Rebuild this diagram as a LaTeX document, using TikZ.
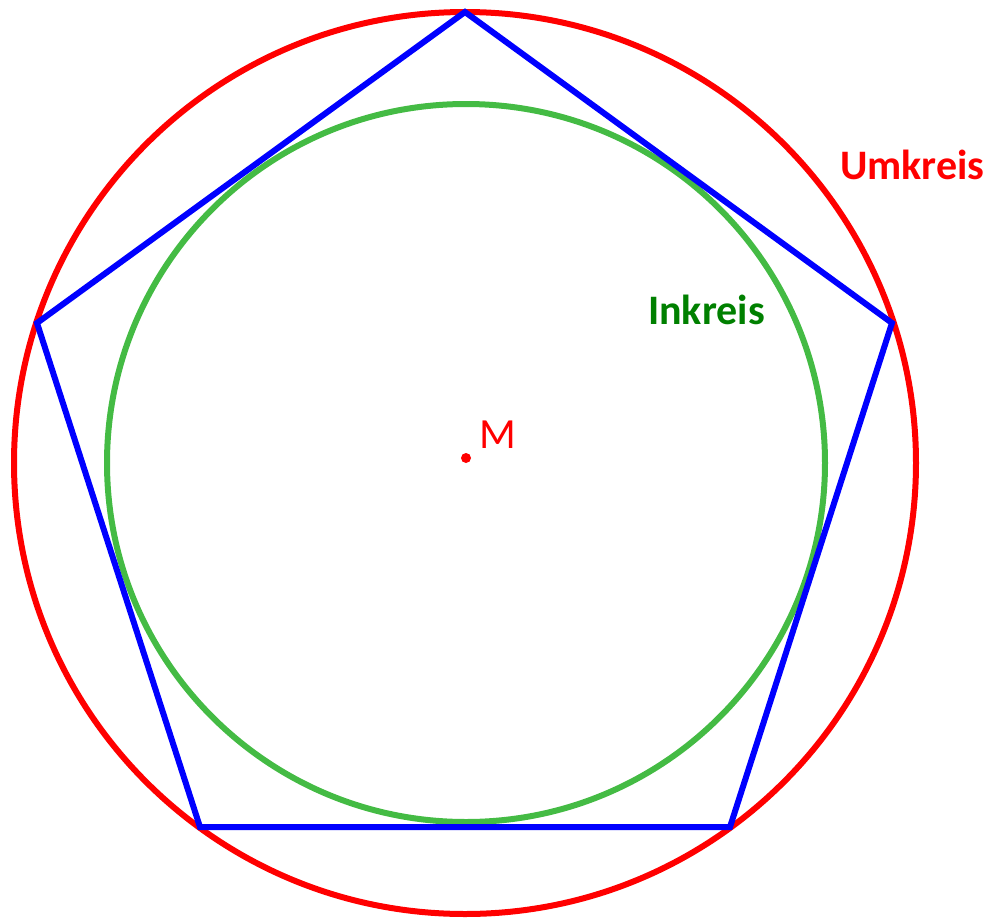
\documentclass[tikz,border=0pt]{standalone}
\usepackage{fontspec}
\setmainfont{Carlito}
\definecolor{umred}{HTML}{FF0000}
\definecolor{pblue}{HTML}{0000FF}
\definecolor{ingreen}{HTML}{44BB44}
\definecolor{intext}{HTML}{008000}
\begin{document}
\begin{tikzpicture}[x=1pt,y=-1pt,
  circ/.style={line width=6pt},
  lbl/.style={inner sep=0pt,anchor=base west,font=\fontsize{42}{46}\selectfont\bfseries}]
\useasboundingbox (0,0) rectangle (994,919);
\coordinate (M) at (465,463);
\draw[circ,umred] (M) circle[radius=451];
\draw[circ,ingreen] (466,463) circle[radius=359];
\coordinate (A) at (465,12);
\coordinate (B) at (892,323);
\coordinate (C) at (730,827);
\coordinate (D) at (200,827);
\coordinate (E) at (37,323);
\draw[circ,pblue,line join=miter] (A) -- (B) -- (C) -- (D) -- (E) -- cycle;
\fill[umred] (466,458) circle[radius=5];
\node[inner sep=0pt,anchor=base west,text=umred,font=\fontsize{43}{46}\selectfont] (mlabel) at (479,448) {M};
\node[lbl,text=umred] (umkreis) at (840,179) {Umkreis};
\node[lbl,text=intext] (inkreis) at (648,324) {Inkreis};
\end{tikzpicture}
\end{document}
